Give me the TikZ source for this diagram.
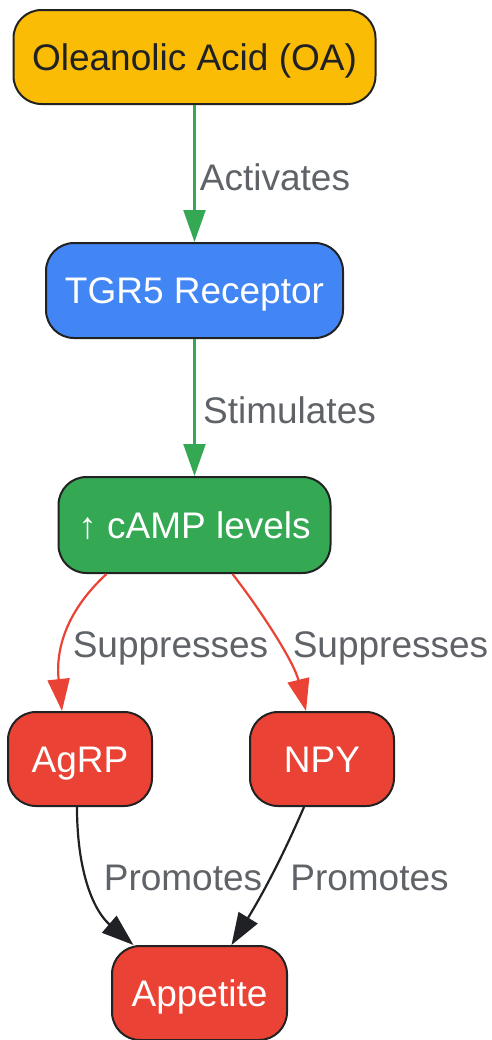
\documentclass[tikz,border=0pt]{standalone}
\usepackage{fontspec}
\setmainfont{Liberation Sans}
\usetikzlibrary{arrows.meta}
\definecolor{oay}{HTML}{FBBC05}
\definecolor{gblue}{HTML}{4285F4}
\definecolor{ggreen}{HTML}{34A853}
\definecolor{gred}{HTML}{EA4335}
\definecolor{edgedark}{HTML}{202124}
\definecolor{lblgray}{HTML}{5F6368}
\definecolor{bordercol}{HTML}{222222}
\tikzset{
  box/.style={draw=bordercol, line width=1pt, rounded corners=14pt, inner sep=0pt,
    font=\fontsize{18.5}{22}\selectfont, text height=13.3pt, text depth=0pt, align=center},
  lbl/.style={inner sep=0pt, text=lblgray, font=\fontsize{18.5}{22}\selectfont,
    text height=13.3pt, text depth=0pt},
  conn/.style={line width=1.1pt, -{Triangle[length=16pt,width=11pt]}},
}
\begin{document}
\begin{tikzpicture}[x=0.5pt,y=-0.5pt]
\useasboundingbox (0,0) rectangle (492,1040);
\node[box, fill=oay, text=edgedark, minimum width=181pt, minimum height=47pt] (oa) at (194.5,57) {Oleanolic Acid (OA)};
\node[box, fill=gblue, text=white, minimum width=148.5pt, minimum height=47.5pt] (tgr) at (194.5,290.5) {TGR5 Receptor};
\node[box, fill=ggreen, text=white, minimum width=136pt, minimum height=48pt] (camp) at (194.5,525) {↑ cAMP levels};
\node[box, fill=gred, text=white, minimum width=72pt, minimum height=47pt] (agrp) at (80,759) {AgRP};
\node[box, fill=gred, text=white, minimum width=72pt, minimum height=47pt] (npy) at (322,759) {NPY};
\node[box, fill=gred, text=white, minimum width=87.5pt, minimum height=47pt] (app) at (199.5,993) {Appetite};

\draw[conn, ggreen] (oa.south) -- (tgr.north);
\draw[conn, ggreen] (tgr.south) -- (camp.north);
\draw[conn, gred] ([xshift=-44pt]camp.south) .. controls (62,615) and (56,655) .. ([xshift=-9pt]agrp.north);
\draw[conn, gred] ([xshift=19pt]camp.south) .. controls (262,612) and (294,662) .. ([xshift=-8pt]npy.north);
\draw[conn, edgedark] ([xshift=-1.5pt]agrp.south) .. controls (77,875) and (95,912) .. ([xshift=-33pt]app.north);
\draw[conn, edgedark] ([xshift=-9pt]npy.south) .. controls (282,858) and (262,895) .. ([xshift=16pt]app.north);

\node[lbl] (l1) at (275,177) {Activates};
\node[lbl] (l2) at (289.5,410) {Stimulates};
\node[lbl] (l3) at (170.5,644) {Suppresses};
\node[lbl] (l4) at (390.5,644) {Suppresses};
\node[lbl] (l5) at (183,877) {Promotes};
\node[lbl] (l6) at (369.5,877) {Promotes};
\end{tikzpicture}
\end{document}
